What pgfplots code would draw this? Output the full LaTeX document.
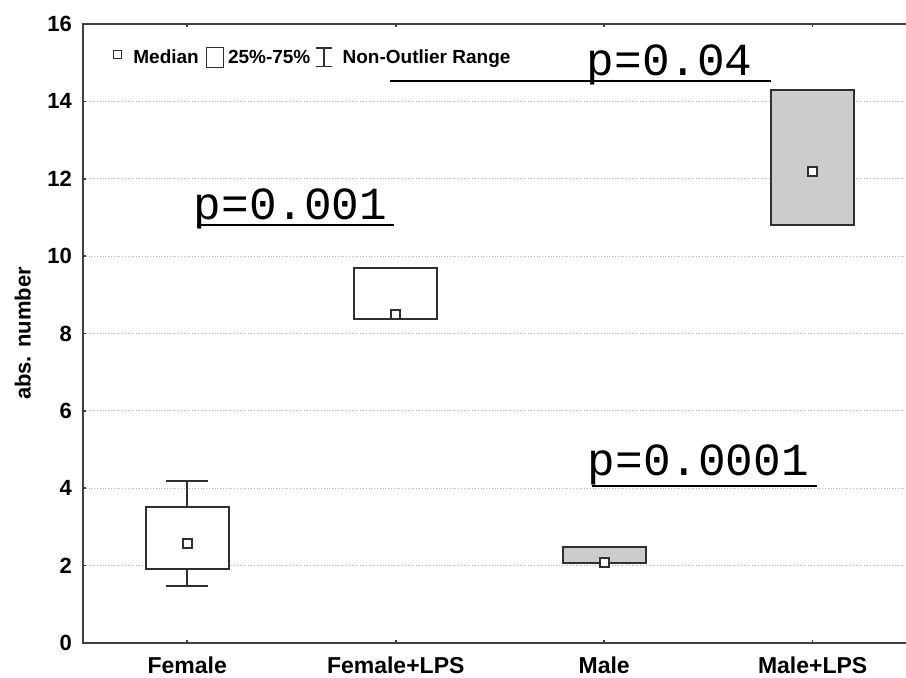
\documentclass[border=0pt]{standalone}
\usepackage{pgfplots}
\pgfplotsset{compat=1.18}
\usetikzlibrary{calc}
\usepackage{fontspec}
\setmainfont{Liberation Sans}
\newfontfamily\pmono{Liberation Mono}
\definecolor{boxc}{HTML}{303030}
\definecolor{axc}{HTML}{404040}
\definecolor{fillg}{HTML}{CCCCCC}
\begin{document}
\begin{tikzpicture}
\begin{axis}[
  scale only axis,
  width=413pt, height=309.5pt,
  xmin=-0.5, xmax=3.462,
  ymin=0, ymax=16,
  ytick={0,2,...,16},
  xtick={0,1,2,3},
  xticklabels={Female,Female+LPS,Male,Male+LPS},
  xtick pos=both, ytick pos=left,
  tick align=inside,
  major tick length=1.7pt,
  tick style={axc, line width=0.8pt},
  axis line style={axc, line width=1pt},
  ymajorgrids,
  major grid style={densely dotted, gray!55, line width=0.5pt},
  /pgf/number format/assume math mode=true,
  yticklabel style={font=\fontsize{11}{13}\selectfont\bfseries, xshift=-2pt},
  xticklabel style={font=\fontsize{11.5}{13}\selectfont\bfseries, yshift=-3.5pt},
  ylabel={abs. number},
  every axis y label/.style={at={(axis description cs:-0.073,0.5)}, rotate=90, anchor=center, font=\fontsize{11}{13}\selectfont\bfseries},
]
% whiskers (Female only has non-outlier range beyond the box)
\addplot[boxc, line width=1pt, mark=none] coordinates {(0,3.52) (0,4.18)};
\addplot[boxc, line width=1pt, mark=none] coordinates {(-0.1,4.18) (0.1,4.18)};
\addplot[boxc, line width=1pt, mark=none] coordinates {(0,1.91) (0,1.48)};
\addplot[boxc, line width=1pt, mark=none] coordinates {(-0.1,1.48) (0.1,1.48)};
% boxes (25%-75%)
\addplot[draw=boxc, fill=white, line width=1pt, mark=none] coordinates {(-0.2,1.91) (0.2,1.91) (0.2,3.52) (-0.2,3.52)} -- cycle;
\addplot[draw=boxc, fill=white, line width=1pt, mark=none] coordinates {(0.8,8.38) (1.2,8.38) (1.2,9.68) (0.8,9.68)} -- cycle;
\addplot[draw=boxc, fill=fillg, line width=1pt, mark=none] coordinates {(1.8,2.06) (2.2,2.06) (2.2,2.49) (1.8,2.49)} -- cycle;
\addplot[draw=boxc, fill=fillg, line width=1pt, mark=none] coordinates {(2.8,10.81) (3.2,10.81) (3.2,14.29) (2.8,14.29)} -- cycle;
% medians
\addplot[only marks, mark=square*, mark size=2.25pt, mark options={fill=white, draw=boxc, line width=0.9pt}] coordinates {(0,2.58) (1,8.49) (2,2.09) (3,12.18)};
% p-value annotations
\draw[black, line width=1pt] (axis cs:0.045,10.797) -- (axis cs:0.992,10.797);
\node[anchor=base west, inner sep=0, font=\pmono\fontsize{23}{25}\selectfont] at (axis cs:0.03,10.952) {p=0.001};
\draw[black, line width=1pt] (axis cs:0.972,14.535) -- (axis cs:2.798,14.535);
\node[anchor=base west, inner sep=0, font=\pmono\fontsize{23}{25}\selectfont] at (axis cs:1.915,14.664) {p=0.04};
\draw[black, line width=1pt] (axis cs:1.940,4.058) -- (axis cs:3.020,4.058);
\node[anchor=base west, inner sep=0, font=\pmono\fontsize{23}{25}\selectfont] at (axis cs:1.92,4.317) {p=0.0001};
\coordinate (sw) at (rel axis cs:0,0);
\coordinate (tl) at (rel axis cs:0,1);
\end{axis}
% legend
\begin{scope}[shift={(tl)}]
  \draw[boxc, line width=0.75pt, fill=white] (15.15pt,-13.35pt) rectangle (19.15pt,-17.35pt);
  \node[anchor=base west, inner sep=0, font=\fontsize{9.5}{11}\selectfont\bfseries] at (25pt,-20pt) {Median};
  \draw[boxc, line width=0.75pt] (61.85pt,-11.65pt) rectangle (70.15pt,-21.65pt);
  \node[anchor=base west, inner sep=0, font=\fontsize{9.5}{11}\selectfont\bfseries] at (72.3pt,-20pt) {25\%-75\%};
  \draw[boxc, line width=0.75pt] (116.5pt,-12pt) -- (124.35pt,-12pt) (120.4pt,-12pt) -- (120.4pt,-21.15pt) (116.5pt,-21.15pt) -- (124.35pt,-21.15pt);
  \node[anchor=base west, inner sep=0, font=\fontsize{9.5}{11}\selectfont\bfseries] at (129.6pt,-20pt) {Non-Outlier Range};
\end{scope}
\pgfresetboundingbox
\useasboundingbox ($(sw)+(-41.5pt,-17.5pt)$) rectangle ($(sw)+(411.5pt,321.5pt)$);
\end{tikzpicture}
\end{document}
